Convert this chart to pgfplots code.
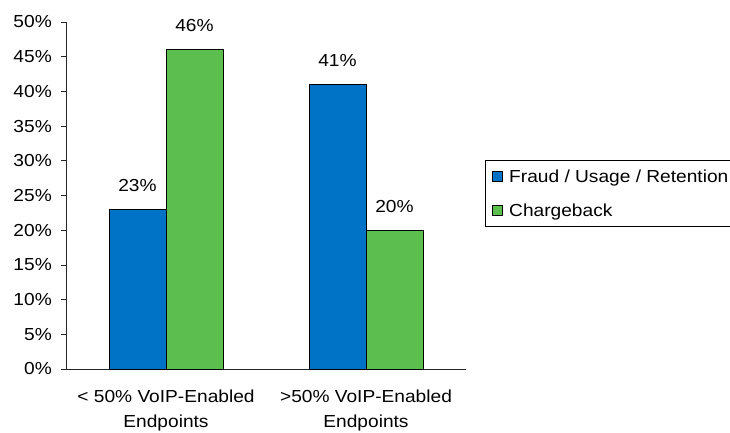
\documentclass[border=0pt]{standalone}
\usepackage{fontspec}
\setmainfont{Liberation Sans}[FakeStretch=1.1]
\usepackage{pgfplots}
\pgfplotsset{compat=1.18}
\definecolor{barblue}{RGB}{0,115,198}
\definecolor{bargreen}{RGB}{93,190,80}
\newcommand{\cf}{\fontsize{17.4}{24.5}\selectfont}
\begin{document}
\begin{tikzpicture}
\begin{axis}[
  at={(66pt,63pt)}, anchor=south west,
  scale only axis, width=400pt, height=347pt,
  ybar, bar width=0.285,
  xmin=-0.5, xmax=1.5, ymin=0, ymax=50,
  axis lines*=left, axis line style={line width=0.8pt, black!85},
  ytick={0,5,...,50},
  yticklabel={\pgfmathprintnumber{\tick}\%},
  /pgf/number format/assume math mode=true,
  tick align=outside, major tick length=5pt,
  tick style={line width=0.8pt, black!85},
  yticklabel style={font=\cf, anchor=east, inner sep=0pt, xshift=-9pt},
  xtick={0,1},
  xticklabels={{< 50\% VoIP-Enabled\\Endpoints},{>50\% VoIP-Enabled\\Endpoints}},
  xticklabel style={font=\cf, align=center, anchor=north, inner sep=0pt, yshift=-16pt},
  xtick style={draw=none},
  extra x ticks={-0.5,0.5,1.5},
  extra x tick labels={},
  extra x tick style={tick style={draw=black!85, line width=0.8pt}},
  nodes near coords={\pgfmathprintnumber{\pgfplotspointmeta}\%},
  nodes near coords style={font=\cf, anchor=center, inner sep=0pt, yshift=24pt, black},
  legend style={at={(1.0475,0.602)}, anchor=north west, draw=black, line width=0.8pt,
    font=\cf, inner xsep=7pt, inner ysep=6pt, row sep=14pt,
    nodes={inner ysep=3pt, inner xsep=6pt}},
  legend cell align=left,
  legend image code/.code={\draw[#1, draw=black, line width=0.8pt] (0pt,-5pt) rectangle (10pt,5pt);},
]
\addplot+[bar shift=-0.1425, fill=barblue, draw=black, line width=1pt] coordinates {(0,23) (1,41)};
\addplot+[bar shift=0.1425, fill=bargreen, draw=black, line width=1pt] coordinates {(0,46) (1,20)};
\legend{Fraud / Usage / Retention, Chargeback}
\end{axis}
\pgfresetboundingbox
\path[use as bounding box] (0,0) rectangle (730pt,432pt);
\end{tikzpicture}
\end{document}
